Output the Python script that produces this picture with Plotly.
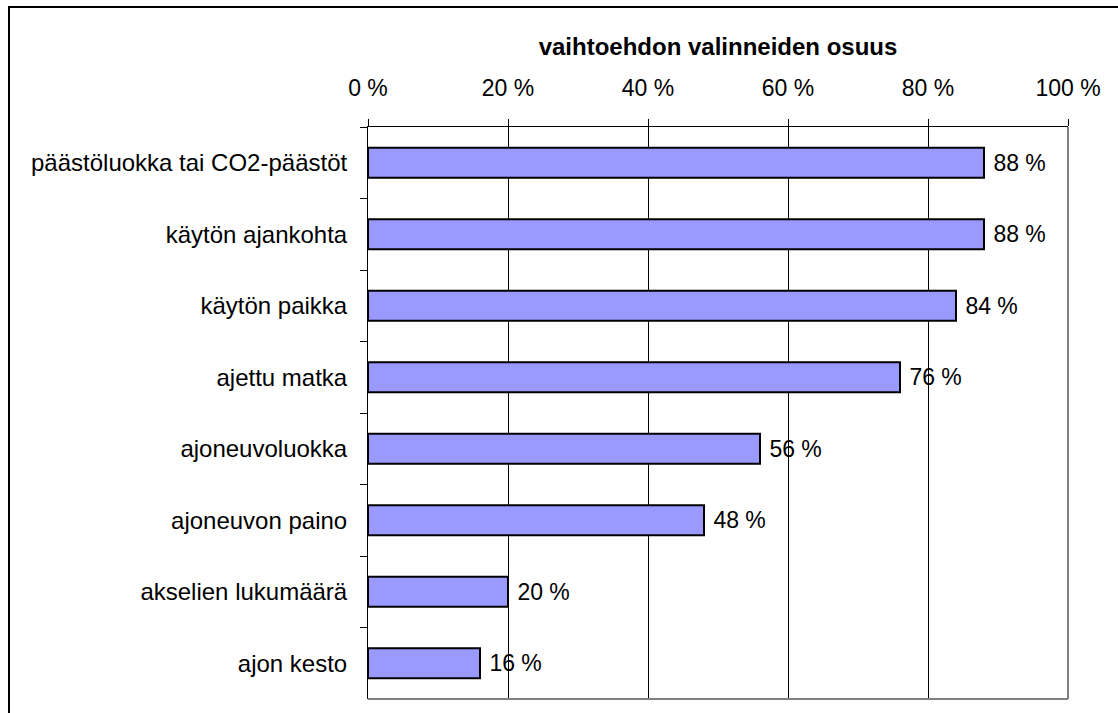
import plotly.graph_objects as go

categories = ["päästöluokka tai CO2-päästöt", "käytön ajankohta", "käytön paikka",
              "ajettu matka", "ajoneuvoluokka", "ajoneuvon paino",
              "akselien lukumäärä", "ajon kesto"]
values = [88, 88, 84, 76, 56, 48, 20, 16]
tick_vals = [0, 20, 40, 60, 80, 100]
tick_text = ["0 %", "20 %", "40 %", "60 %", "80 %", "100 %"]
axis_title = "vaihtoehdon valinneiden osuus"

FONT = "Liberation Sans, Arial, sans-serif"

fig = go.Figure(go.Bar(
    y=categories, x=values, orientation="h",
    marker=dict(color="#9999FF", line=dict(color="black", width=2)),
    text=[f" {v} %" for v in values], textposition="outside",
    textfont=dict(family=FONT, size=23, color="black"),
    cliponaxis=False,
))

W, H = 1118, 713
l, r, t, b = 368, 50, 127, 14
pw, ph = W - l - r, H - t - b

def px(x):
    return (x - l) / pw

def py(y):
    return (H - b - y) / ph

fig.update_layout(
    width=W, height=H,
    margin=dict(l=l, r=r, t=t, b=b),
    paper_bgcolor="white", plot_bgcolor="white",
    showlegend=False, bargap=0.58,
    font=dict(family=FONT, size=23, color="black"),
    xaxis=dict(
        side="top", range=[0, 100], tickvals=tick_vals, ticktext=tick_text,
        showgrid=True, gridcolor="black", gridwidth=1,
        ticks="outside", ticklen=7, tickcolor="black",
        showline=True, linecolor="black", linewidth=1,
        zeroline=False, tickfont=dict(size=23),
        ticklabelstandoff=14,
        title=dict(text="<b>" + axis_title + "</b>", font=dict(size=24), standoff=12),
    ),
    yaxis=dict(
        autorange="reversed", tickson="boundaries", ticks="outside",
        ticklen=7, tickcolor="black",
        showline=True, linecolor="black", linewidth=1,
        showgrid=False, zeroline=False, tickfont=dict(size=24),
        ticklabelstandoff=15,
    ),
    shapes=[
        dict(type="line", xref="paper", yref="paper", x0=1, x1=1, y0=0, y1=1,
             line=dict(color="#808080", width=2)),
        dict(type="line", xref="paper", yref="paper", x0=0, x1=1, y0=0, y1=0,
             line=dict(color="#808080", width=2)),
        dict(type="rect", xref="paper", yref="paper",
             x0=px(9), x1=px(1140), y0=py(7), y1=py(740),
             line=dict(color="black", width=2), layer="above"),
    ],
)

fig.write_html("out.html", config={"displayModeBar": False},
               post_script="document.body.style.margin='0';document.body.style.overflow='hidden';")
